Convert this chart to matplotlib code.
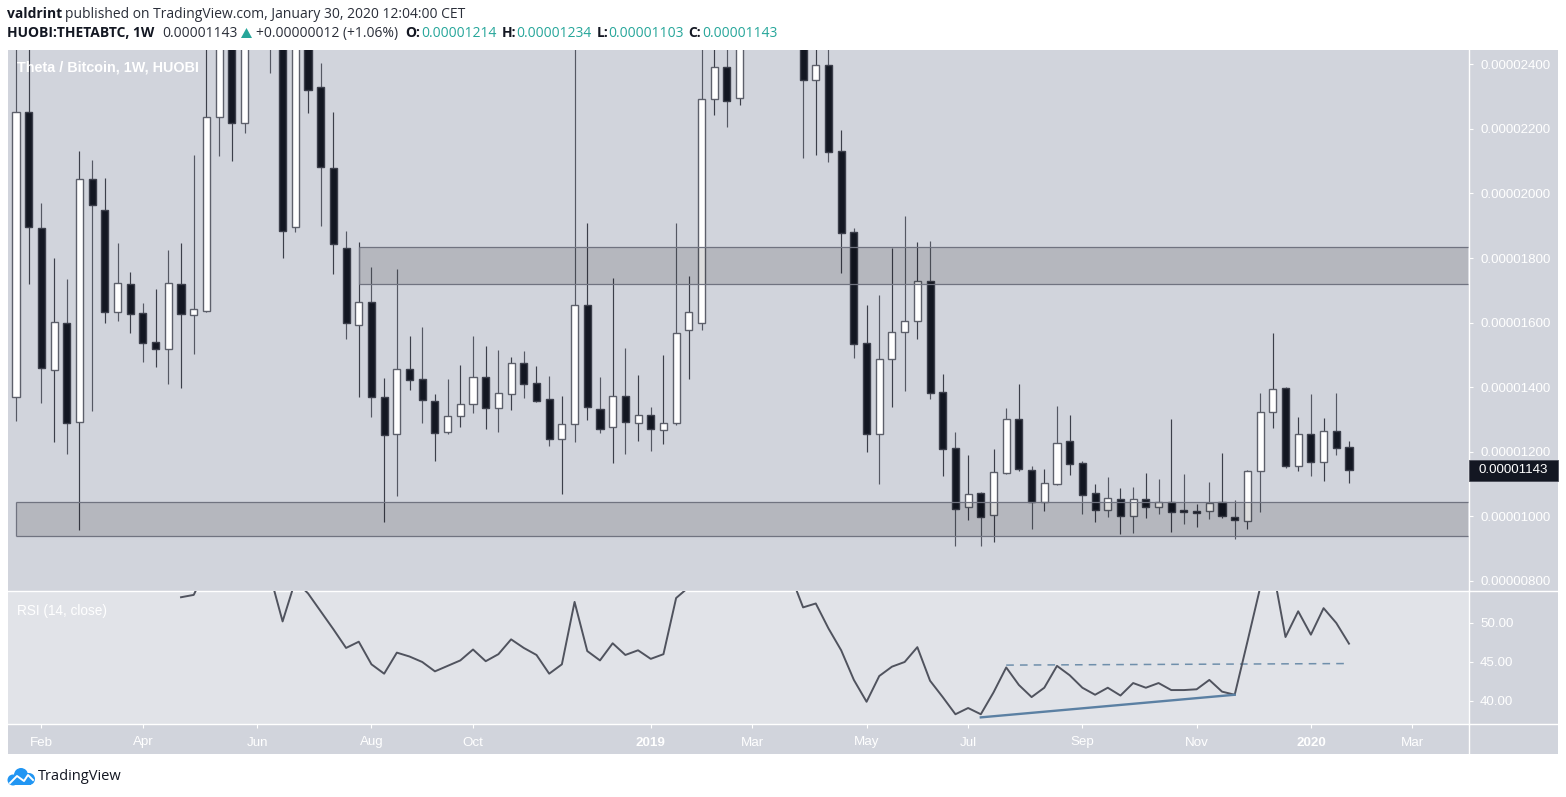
import pandas as pd
import matplotlib
matplotlib.use("Agg")
import matplotlib.pyplot as plt
import matplotlib.dates as mdates
from matplotlib.patches import Rectangle, Circle, Polygon

W, H = 1566, 797

# weekly candles, price in 1e-8 BTC
opens = [1370, 2252, 1893, 1453, 1599, 1292, 2045, 1949, 1633, 1720,
         1630, 1540, 1518, 1720, 1624, 1636, 2237, 2560, 2218, 2600,
         2650, 2600, 1896, 2600, 2329, 2079, 1831, 1593, 1664, 1370,
         1255, 1456, 1425, 1357, 1261, 1311, 1348, 1432, 1336, 1379,
         1475, 1413, 1363, 1240, 1286, 1655, 1333, 1277, 1373, 1289,
         1314, 1267, 1289, 1577, 1599, 2292, 2391, 2295, 2500, 2600,
         2700, 2650, 2520, 2351, 2398, 2131, 1880, 1537, 1255, 1487,
         1571, 1605, 1729, 1385, 1212, 1029, 1072, 1004, 1134, 1302,
         1144, 1045, 1100, 1233, 1165, 1072, 1020, 1054, 1001, 1054,
         1029, 1045, 1020, 1017, 1017, 1045, 998, 986, 1141, 1323,
         1398, 1156, 1255, 1168, 1264, 1214]
highs = [2500, 2500, 1970, 1800, 1735, 2131, 2103, 2048, 1846, 1757,
         1661, 1704, 1825, 1846, 2119, 2600, 2700, 2700, 2750, 2800,
         2800, 2750, 2700, 2700, 2404, 2252, 1884, 1850, 1772, 1428,
         1766, 1559, 1586, 1379, 1425, 1469, 1559, 1528, 1515, 1494,
         1512, 1466, 1435, 1373, 2500, 1908, 1432, 1738, 1521, 1438,
         1339, 1500, 1908, 1744, 2480, 2520, 2500, 2560, 2680, 2720,
         2760, 2700, 2600, 2480, 2480, 2196, 1893, 1655, 1685, 1831,
         1930, 1850, 1853, 1441, 1261, 1190, 1075, 1209, 1336, 1410,
         1156, 1147, 1342, 1314, 1172, 1100, 1122, 1088, 1091, 1134,
         1116, 1302, 1131, 1038, 1106, 1196, 1051, 1143, 1382, 1568,
         1400, 1308, 1379, 1305, 1382, 1234]
lows = [1295, 1720, 1351, 1230, 1193, 958, 1326, 1599, 1605, 1568,
        1478, 1463, 1410, 1398, 1503, 1633, 2116, 2100, 2187, 2480,
        2373, 1800, 1880, 2249, 1899, 1750, 1549, 1370, 1308, 983,
        1063, 1391, 1289, 1172, 1255, 1277, 1320, 1271, 1261, 1329,
        1367, 1354, 1218, 1069, 1230, 1298, 1258, 1165, 1193, 1233,
        1202, 1224, 1283, 1425, 1577, 2243, 2206, 2274, 2470, 2540,
        2560, 2510, 2110, 2119, 2097, 1754, 1490, 1199, 1100, 1339,
        1388, 1549, 1363, 1125, 908, 989, 908, 921, 1131, 1141,
        961, 1017, 1098, 1128, 1007, 983, 998, 946, 949, 995,
        1007, 952, 976, 967, 992, 995, 930, 961, 1014, 1274,
        1150, 1141, 1125, 1110, 1190, 1103]
closes = [2252, 1896, 1459, 1602, 1289, 2045, 1964, 1633, 1723, 1627,
          1537, 1518, 1723, 1627, 1642, 2237, 2560, 2218, 2600, 2650,
          2500, 1884, 2600, 2320, 2082, 1843, 1599, 1664, 1370, 1252,
          1456, 1422, 1360, 1258, 1311, 1348, 1432, 1336, 1382, 1475,
          1410, 1357, 1240, 1286, 1655, 1339, 1271, 1373, 1292, 1314,
          1271, 1289, 1568, 1633, 2292, 2391, 2286, 2500, 2600, 2560,
          2650, 2520, 2351, 2398, 2128, 1877, 1534, 1255, 1487, 1571,
          1605, 1729, 1382, 1209, 1023, 1069, 998, 1137, 1302, 1147,
          1045, 1103, 1227, 1162, 1066, 1020, 1057, 1001, 1054, 1029,
          1045, 1014, 1014, 1011, 1041, 1001, 989, 1141, 1323, 1394,
          1156, 1255, 1168, 1264, 1212, 1143]

rsi = [None] * 13 + [53.3, 53.6, 57.0, 60.0, 62.0, 63.0, 61.0, 56.2, 50.2, 55.4,
       53.8, 51.5, 49.2, 46.8, 47.6, 44.7, 43.5, 46.2, 45.7, 45.0,
       43.8, 44.5, 45.2, 46.6, 45.1, 46.0, 47.9, 46.8, 45.9, 43.5,
       44.7, 52.7, 46.4, 45.2, 47.4, 45.9, 46.5, 45.4, 46.0, 53.2,
       54.6, 60.0, 63.0, 62.0, 64.0, 66.0, 64.0, 60.0, 56.2, 52.0,
       52.5, 49.3, 46.5, 42.7, 39.9, 43.2, 44.4, 45.0, 46.9, 42.6,
       40.5, 38.3, 39.1, 38.3, 41.1, 44.3, 42.05, 40.5, 41.7, 44.5,
       43.3, 41.7, 40.8, 41.7, 40.7, 42.3, 41.7, 42.3, 41.4, 41.4,
       41.5, 42.7, 41.2, 40.8, 47.6, 54.5, 57.0, 48.2, 51.5, 48.5,
       51.9, 50.0, 47.35]

zone_high = [1718, 1834]
zone_low = [938, 1045]
price_ticks = [800, 1000, 1200, 1400, 1600, 1800, 2000, 2200, 2400]
rsi_ticks = [40, 45, 50]
month_ticks = ["2018-02-05", "2018-04-02", "2018-06-04", "2018-08-06", "2018-10-01", "2019-01-07",
               "2019-03-04", "2019-05-06", "2019-07-01", "2019-09-02", "2019-11-04", "2020-01-06", "2020-03-02"]
month_labels = ["Feb", "Apr", "Jun", "Aug", "Oct", "2019", "Mar", "May", "Jul", "Sep", "Nov", "2020", "Mar"]
support_line = [37.9, 40.8]
resist_line = [44.6, 44.8]

BG = "#d1d4dc"
PANE = "#e1e3e8"
DARK = "#131722"
TEAL = "#26a69a"
TICK = "white"

dates = pd.date_range("2018-01-22", periods=len(closes), freq="7D")
x = mdates.date2num(dates)
week_px = 12.695

plt.rcParams["font.family"] = ["Liberation Sans", "DejaVu Sans"]
fig = plt.figure(figsize=(W / 100, H / 100), dpi=100, facecolor="white")


def px_axes(left, top, right, bottom):
    return fig.add_axes([left / W, 1 - bottom / H, (right - left) / W, (bottom - top) / H])


# panel behind everything
bg = fig.add_axes([0, 0, 1, 1], zorder=0)
bg.set_xlim(0, W)
bg.set_ylim(H, 0)
bg.axis("off")
bg.add_patch(Rectangle((8, 50), 1550, 704, facecolor=BG, edgecolor="none"))

ax = px_axes(8, 50, 1469, 591)
rs = px_axes(8, 591, 1469, 724)
ax.set_zorder(1)
rs.set_zorder(1)
ax.set_facecolor(BG)
rs.set_facecolor(PANE)

day_per_px = 7 / week_px
xlim = (x[0] - 8 * day_per_px, x[0] + 1453 * day_per_px)

# candles
for i in range(len(closes)):
    up = closes[i] >= opens[i]
    wick = "#3c3f4a" if i % 2 else "#555863"
    ax.vlines(x[i], lows[i], highs[i], color=wick, linewidth=0.85, zorder=2)
    ax.bar(x[i], abs(closes[i] - opens[i]), bottom=min(opens[i], closes[i]), width=3.9,
           color="white" if up else DARK, edgecolor="#5d606b" if up else "#3b3e4a",
           linewidth=1.0, zorder=3)

# shaded zones sit over the candles, no line on their right side
zone_end = xlim[1] - day_per_px
for zone, start in ((zone_high, x[27]), (zone_low, x[0])):
    ax.add_patch(Rectangle((start, zone[0]), zone_end - start, zone[1] - zone[0],
                           facecolor=(0, 0, 0, 0.135), edgecolor="none", zorder=4))
    ax.hlines(zone, start, zone_end, color="#707380", linewidth=0.9, zorder=5)
    ax.vlines(start, zone[0], zone[1], color="#707380", linewidth=0.9, zorder=5)

ax.set_xlim(xlim)
ax.set_ylim(769, 2444)
ax.xaxis.set_visible(False)
ax.yaxis.tick_right()
ax.set_yticks(price_ticks)
ax.set_yticklabels([f"{v * 1e-8:.8f}" for v in price_ticks])
ax.tick_params(axis="y", length=3, width=0.8, color="white", labelcolor=TICK, labelsize=9.6, pad=5)
for s in ("left", "top", "bottom"):
    ax.spines[s].set_visible(False)
ax.spines["right"].set_color("white")
ax.spines["right"].set_linewidth(1.0)

# last price tag
yt = ax.get_yaxis_transform()
ax.add_patch(Rectangle((1.0, closes[-1] - 33), 89 / 1461, 66, transform=yt, facecolor=DARK,
                       edgecolor="#4a4d58", linewidth=0.6, clip_on=False, zorder=6))
ax.text(1 + 10 / 1461, closes[-1], f"{closes[-1] * 1e-8:.8f}", transform=yt, color="white",
        fontsize=9.6, va="center", ha="left", zorder=7, clip_on=False)

ax.annotate("Theta / Bitcoin, 1W, HUOBI", xy=(0, 1), xycoords="axes fraction", xytext=(9 * 0.72, -18 * 0.72),
            textcoords="offset points", color="white", fontsize=10.4, fontweight="bold", va="center", ha="left", zorder=7)

# RSI pane
rs.plot(x[:len(rsi)], [float("nan") if v is None else v for v in rsi], color="#50535e", linewidth=1.4, zorder=3)
rs.plot([x[76], x[96]], support_line, color="#5b80a3", linewidth=1.7, zorder=4)
rs.plot([x[78], x[105]], resist_line, color="#6f8fab", linewidth=1.1, linestyle=(0, (5, 4)), zorder=2)
rs.set_xlim(xlim)
rs.set_ylim(37.05, 54.1)
rs.yaxis.tick_right()
rs.set_yticks(rsi_ticks)
rs.set_yticklabels([f"{v:.2f}" for v in rsi_ticks])
rs.tick_params(axis="y", length=3, width=0.8, color="white", labelcolor=TICK, labelsize=9.6, pad=5)
rs.set_xticks(mdates.date2num(pd.to_datetime(month_ticks)))
rs.set_xticklabels(month_labels)
rs.tick_params(axis="x", length=3, width=0.8, color="white", labelcolor=TICK, labelsize=9.6, pad=6)
for lab in rs.get_xticklabels():
    if lab.get_text().isdigit():
        lab.set_fontweight("bold")
rs.spines["left"].set_visible(False)
for s in ("right", "top", "bottom"):
    rs.spines[s].set_color("white")
    rs.spines[s].set_linewidth(1.0)
rs.annotate("RSI (14, close)", xy=(0, 1), xycoords="axes fraction", xytext=(9 * 0.72, -20 * 0.72),
            textcoords="offset points", color="white", fontsize=9.8, va="center", ha="left")

# header, separators and logo, placed in pixels
top = fig.add_axes([0, 0, 1, 1], zorder=5)
top.set_xlim(0, W)
top.set_ylim(H, 0)
top.axis("off")
top.patch.set_alpha(0)
top.plot([1469, 1469], [724, 754], color="white", linewidth=1.0)
top.plot([1469, 1558], [591, 591], color="white", linewidth=1.0)
top.plot([1469, 1558], [724, 724], color="white", linewidth=1.0)

HEAD = ["Open Sans", "DejaVu Sans"]
pieces = [
    (7, 14, "valdrint", "bold", DARK),
    (65, 14, "published on TradingView.com, January 30, 2020 12:04:00 CET", "normal", "#2a2e39"),
    (7, 33, "HUOBI:THETABTC, 1W", "bold", DARK),
    (162, 33, "0.00001143", "normal", "#2a2e39"),
    (256, 33, "+0.00000012 (+1.06%)", "normal", "#2a2e39"),
    (405, 33, "O:", "bold", DARK),
    (421, 33, "0.00001214", "normal", TEAL),
    (502, 33, "H:", "bold", DARK),
    (516, 33, "0.00001234", "normal", TEAL),
    (597, 33, "L:", "bold", DARK),
    (608, 33, "0.00001103", "normal", TEAL),
    (688, 33, "C:", "bold", DARK),
    (702, 33, "0.00001143", "normal", TEAL),
]
for px, py, txt, weight, col in pieces:
    top.text(px, py, txt, family=HEAD, fontsize=10, fontweight=weight, color=col, va="center", ha="left")
top.add_patch(Polygon([(241, 38), (252, 38), (246.5, 28)], facecolor=TEAL, edgecolor="none"))

# TradingView logo
BLUE = "#2196f3"
for cx, cy, r in ((13, 780, 5.5), (21, 775, 7), (29, 779, 6)):
    top.add_patch(Circle((cx, cy), r, facecolor=BLUE, edgecolor="none"))
top.add_patch(Rectangle((11, 778), 20, 7, facecolor=BLUE, edgecolor="none"))
top.plot([10, 17, 24, 28, 33], [783, 776, 781, 775, 780], color="white", linewidth=1.4)
top.text(38, 776, "TradingView", family=HEAD, fontsize=10.5, color="#131722", va="center", ha="left")

fig.savefig("out.png", dpi=100)
